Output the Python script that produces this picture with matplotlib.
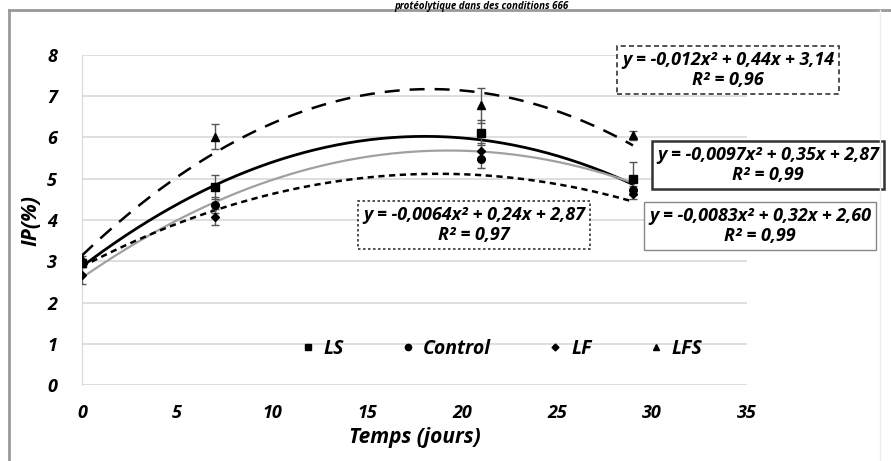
import numpy as np
import matplotlib
matplotlib.use("Agg")
import matplotlib.pyplot as plt
from matplotlib.lines import Line2D

plt.rcParams['font.family'] = ['Open Sans', 'DejaVu Sans']

# jours de mesure
jours = [0, 7, 21, 29]

# IP (%) moyen par traitement
ip_ls = [2.95, 4.80, 6.12, 5.00]
ip_control = [2.98, 4.36, 5.47, 4.72]
ip_lf = [2.66, 4.07, 5.67, 4.62]
ip_lfs = [3.05, 6.02, 6.78, 6.05]

# ecarts types
err_ls = [0.08, 0.30, 0.30, 0.40]
err_control = [0.08, 0.20, 0.20, 0.10]
err_lf = [0.20, 0.20, 0.20, 0.10]
err_lfs = [0.08, 0.30, 0.42, 0.10]

# coefficients des courbes de tendance (polynome ordre 2)
coef_ls = [-0.0097, 0.35, 2.87]
coef_control = [-0.0064, 0.24, 2.87]
coef_lf = [-0.0083, 0.32, 2.60]
coef_lfs = [-0.012, 0.44, 3.14]

eq_ls = "y = -0,0097x² + 0,35x + 2,87\nR² = 0,99"
eq_control = "y = -0,0064x² + 0,24x + 2,87\nR² = 0,97"
eq_lf = "y = -0,0083x² + 0,32x + 2,60\nR² = 0,99"
eq_lfs = "y = -0,012x² + 0,44x + 3,14\nR² = 0,96"

fig = plt.figure(figsize=(8.91, 4.61), dpi=100)
ax = fig.add_axes([82/891, 1 - 385/461, 665/891, 330/461])

txt = dict(fontweight='bold', fontstyle='italic')

xx = np.linspace(0, 29, 200)
ax.plot(xx, np.polyval(coef_lfs, xx), color='black', lw=1.8, dashes=(6, 4), zorder=3)
ax.plot(xx, np.polyval(coef_ls, xx), color='black', lw=2.0, zorder=3)
ax.plot(xx, np.polyval(coef_lf, xx), color='#a0a0a0', lw=1.6, zorder=3)
ax.plot(xx, np.polyval(coef_control, xx), color='black', lw=1.8, dashes=(2.5, 1.8), zorder=3)

ax.errorbar(jours, ip_ls, yerr=err_ls, fmt='s', ms=5.5, color='black', ecolor='#555555',
            elinewidth=1, capsize=3, zorder=4)
ax.errorbar(jours, ip_control, yerr=err_control, fmt='o', ms=5.5, color='black', ecolor='#555555',
            elinewidth=1, capsize=3, zorder=4)
ax.errorbar(jours, ip_lf, yerr=err_lf, fmt='D', ms=4.5, color='black', ecolor='#555555',
            elinewidth=1, capsize=3, zorder=4)
ax.errorbar(jours, ip_lfs, yerr=err_lfs, fmt='^', ms=5.5, color='black', ecolor='#555555',
            elinewidth=1, capsize=3, zorder=4)

ax.set_xlim(0, 35)
ax.set_ylim(0, 8)
ax.set_xticks(range(0, 36, 5))
ax.set_yticks(range(0, 9))
ax.grid(axis='y', color='#d9d9d9', lw=1.2)
ax.set_axisbelow(True)
for s in ['top', 'right', 'bottom']:
    ax.spines[s].set_visible(False)
ax.spines['left'].set_color('#d9d9d9')
ax.tick_params(length=0, labelsize=13)
ax.tick_params(axis='x', pad=14)
ax.tick_params(axis='y', pad=18)
for lab in ax.get_xticklabels() + ax.get_yticklabels():
    lab.set_fontweight('bold')
    lab.set_fontstyle('italic')

ax.set_xlabel("Temps (jours)", fontsize=15, labelpad=3, **txt)
ax.set_ylabel("IP(%)", fontsize=15, labelpad=4, **txt)

handles = [Line2D([], [], marker='s', ls='none', color='black', ms=4.5),
           Line2D([], [], marker='o', ls='none', color='black', ms=4.5),
           Line2D([], [], marker='D', ls='none', color='black', ms=3.5),
           Line2D([], [], marker='^', ls='none', color='black', ms=4.5)]
leg = ax.legend(handles, ['LS', 'Control', 'LF', 'LFS'], loc='center', bbox_to_anchor=(0.630, 0.109),
                ncol=4, frameon=False, handlelength=0.8, handletextpad=0.4, columnspacing=2.9,
                prop=dict(size=14, weight='bold', style='italic'))

def boite(x, y, texte, ls, ec, lw):
    ax.text(x, y, texte, transform=fig.transFigure, ha='center', va='center', fontsize=13,
            linespacing=1.15, zorder=5, **txt,
            bbox=dict(boxstyle='square,pad=0.25', fc='white', ec=ec, lw=lw, ls=ls))

boite(728/891, 1 - 70/461, eq_lfs, (0, (3, 2)), '#333333', 1.2)
boite(768/891, 1 - 165/461, eq_ls, '-', '#333333', 1.8)
boite(760/891, 1 - 226/461, eq_lf, '-', '#888888', 1.0)
boite(474/891, 1 - 225/461, eq_control, (0, (1.5, 1.5)), '#333333', 1.2)

# cadre du graphique
fig.add_artist(Line2D([9/891, 1], [1 - 10/461, 1 - 10/461], color='#999999', lw=2))
fig.add_artist(Line2D([9/891, 9/891], [0, 1 - 10/461], color='#999999', lw=2))
fig.add_artist(Line2D([880/891, 880/891], [0, 1 - 10/461], color='#eeeeee', lw=1))

fig.text(0.54, 1 - 0.5/461, "protéolytique dans des conditions 666", ha='center', va='top',
         fontsize=7, **txt)

fig.savefig("out.png", dpi=100)
